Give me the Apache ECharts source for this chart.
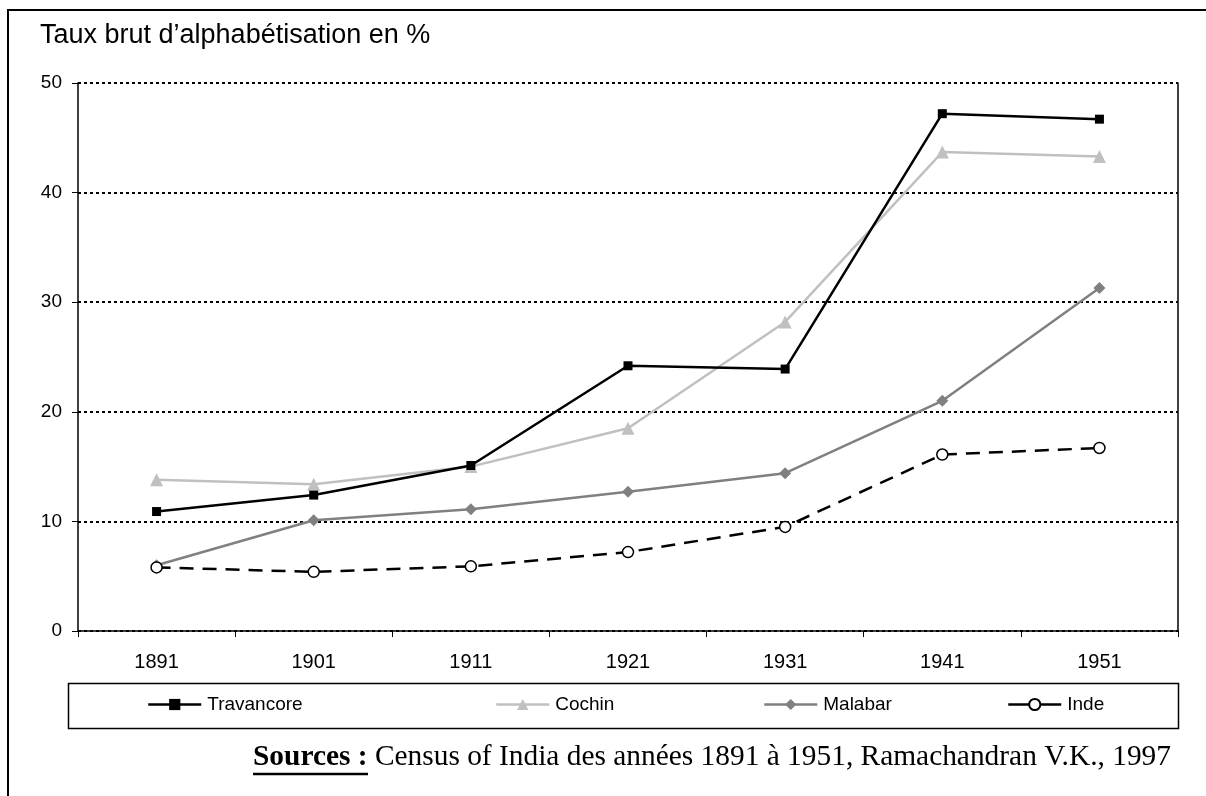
<!DOCTYPE html>
<html><head><meta charset="utf-8">
<script src="https://cdn.jsdelivr.net/npm/echarts@6/dist/echarts.min.js"></script>
<style>html,body{margin:0;padding:0;background:#fff}#c{width:1206px;height:796px}</style>
</head><body><div id="c"></div>
<script>
const categories = ['1891','1901','1911','1921','1931','1941','1951'];
const travancore = [10.9, 12.4, 15.1, 24.2, 23.9, 47.2, 46.7];
const cochin     = [13.8, 13.4, 15.0, 18.5, 28.2, 43.7, 43.3];
const malabar    = [6.0, 10.1, 11.1, 12.7, 14.4, 21.0, 31.3];
const inde       = [5.8, 5.4, 5.9, 7.2, 9.5, 16.1, 16.7];
const yTicks = [0, 10, 20, 30, 40, 50];

const chart = echarts.init(document.getElementById('c'), null, {renderer:'canvas'});
const font = 'Arial, "Liberation Sans", sans-serif';
const serif = '"Liberation Serif", "Times New Roman", serif';
function legendAt(name, left){
  return {data:[name], left:left, top:695, itemWidth:53, itemHeight:14, itemGap:0,
    lineStyle:{type:'solid', width:2.5},
    textStyle:{fontFamily:font, fontSize:19, color:'#000', padding:[0,0,0,1]}, padding:0};
}
chart.setOption({
  animation:false,
  backgroundColor:'#fff',
  grid:{left:78, right:28, top:83, bottom:165, containLabel:false},
  xAxis:{type:'category', data:categories, boundaryGap:true,
    axisLine:{lineStyle:{color:'#000', width:1.5}},
    axisTick:{show:true, length:6, lineStyle:{color:'#000'}},
    axisLabel:{color:'#000', fontFamily:font, fontSize:20, margin:21}},
  yAxis:[{type:'value', min:yTicks[0], max:yTicks[yTicks.length-1], interval:10,
    axisLine:{show:true, lineStyle:{color:'#000', width:1.5}},
    axisTick:{show:true, length:6, lineStyle:{color:'#000'}},
    axisLabel:{color:'#000', fontFamily:font, fontSize:19, margin:16},
    splitLine:{show:true, lineStyle:{color:'#000', width:2, type:[3,3]}}},
    {type:'value', min:0, max:50, position:'right',
    axisLine:{show:true, lineStyle:{color:'#000', width:1.5}},
    axisTick:{show:false}, axisLabel:{show:false}, splitLine:{show:false}}],
  legend:[legendAt('Travancore',147), legendAt('Cochin',495), legendAt('Malabar',763), legendAt('Inde',1007)],
  graphic:[
    {type:'rect', shape:{x:8, y:10, width:1220, height:820}, style:{fill:'none', stroke:'#000', lineWidth:2}, silent:true, z:-1},
    {type:'rect', shape:{x:68.5, y:683.5, width:1110, height:45}, style:{fill:'none', stroke:'#000', lineWidth:1.5}, silent:true},
    {type:'text', left:40, top:22, style:{text:'Taux brut d\u2019alphabétisation en %', font:'27px '+font, fill:'#000'}},
    {type:'text', left:253, top:743, style:{text:'{b|Sources :} Census of India des années 1891 à 1951, Ramachandran V.K., 1997',
      rich:{b:{fontWeight:'bold', fontFamily:serif, fontSize:29.4, fill:'#000'}},
      font:'29.4px '+serif, fill:'#000'}},
    {type:'line', shape:{x1:253, y1:774, x2:368, y2:774}, style:{stroke:'#000', lineWidth:2.5}}
  ],
  series:[
    {name:'Travancore', type:'line', data:travancore, symbol:'rect', symbolSize:9,
      lineStyle:{color:'#000', width:2.5}, itemStyle:{color:'#000'}, z:4},
    {name:'Cochin', type:'line', data:cochin, symbol:'triangle', symbolSize:13,
      lineStyle:{color:'#c0c0c0', width:2.5}, itemStyle:{color:'#c0c0c0'}, z:3},
    {name:'Malabar', type:'line', data:malabar, symbol:'diamond', symbolSize:12,
      lineStyle:{color:'#808080', width:2.5}, itemStyle:{color:'#808080'}, z:2},
    {name:'Inde', type:'line', data:inde, symbol:'circle', symbolSize:11,
      lineStyle:{color:'#000', width:2.5, type:[14,9]}, itemStyle:{color:'#fff', borderColor:'#000', borderWidth:1.5}, z:5}
  ]
});
</script></body></html>
